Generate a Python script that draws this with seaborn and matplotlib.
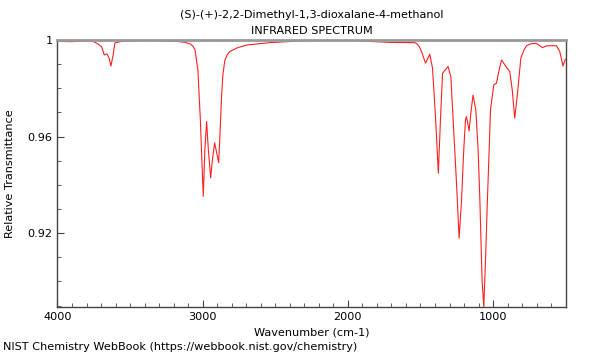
import matplotlib
matplotlib.use('Agg')

import pandas as pd
import matplotlib.pyplot as plt
import seaborn as sns
from matplotlib.ticker import MultipleLocator

# spectrum (wavenumber in cm-1, relative transmittance)
wavenumber = [4000, 3900, 3800, 3750, 3720, 3696, 3678, 3659, 3645, 3632, 3618, 3604,
              3560, 3500, 3400, 3300, 3157, 3120, 3088, 3068, 3053, 3033, 3016, 2996,
              2985, 2973, 2961, 2945, 2933, 2918, 2905, 2890, 2881, 2870, 2861, 2847,
              2830, 2813, 2764, 2698, 2537, 2331, 2124, 1986, 1849, 1711, 1573, 1540,
              1525, 1508, 1493, 1465, 1436, 1417, 1396, 1377, 1362, 1348, 1310, 1291,
              1275, 1252, 1234, 1217, 1202, 1190, 1183, 1165, 1153, 1138, 1119, 1103,
              1091, 1076, 1064, 1052, 1039, 1027, 1018, 995, 977, 961, 942, 908, 885,
              868, 851, 833, 809, 788, 770, 740, 701, 660, 632, 563, 541, 518, 502]
transmittance = [0.9994, 0.9993, 0.9996, 0.9993, 0.9983, 0.9972, 0.9938, 0.9942, 0.9926,
                 0.9892, 0.9934, 0.9988, 0.9994, 0.9996, 0.9998, 0.9997, 0.9993, 0.9990,
                 0.9984, 0.9975, 0.9959, 0.9876, 0.9669, 0.9352, 0.9545, 0.9662, 0.9545,
                 0.9429, 0.9503, 0.9574, 0.9537, 0.9492, 0.9607, 0.9765, 0.9855, 0.9917,
                 0.9940, 0.9952, 0.9967, 0.9979, 0.9989, 0.9996, 0.9998, 0.9998, 0.9994,
                 0.9990, 0.9989, 0.9989, 0.9985, 0.9972, 0.9952, 0.9904, 0.9941, 0.9883,
                 0.9676, 0.9448, 0.9676, 0.9862, 0.9890, 0.9848, 0.9669, 0.9408, 0.9179,
                 0.9338, 0.9545, 0.9669, 0.9683, 0.9623, 0.9698, 0.9772, 0.9710, 0.9545,
                 0.9338, 0.9007, 0.8895, 0.9090, 0.9338, 0.9545, 0.9710, 0.9814, 0.9821,
                 0.9868, 0.9917, 0.9887, 0.9869, 0.9793, 0.9676, 0.9772, 0.9924, 0.9958,
                 0.9976, 0.9984, 0.9986, 0.9968, 0.9976, 0.9976, 0.9952, 0.9892, 0.9921]

x_ticks = [4000, 3000, 2000, 1000]
y_ticks = [0.92, 0.96, 1.0]
y_tick_labels = ['0.92', '0.96', '1']

title = '(S)-(+)-2,2-Dimethyl-1,3-dioxalane-4-methanol\nINFRARED SPECTRUM'

df = pd.DataFrame({'wn': wavenumber, 't': transmittance})

sns.set_style('ticks')
plt.rcParams['font.family'] = ['DejaVu Sans']
plt.rcParams['text.color'] = 'black'
plt.rcParams['axes.labelcolor'] = 'black'
plt.rcParams['xtick.labelcolor'] = 'black'
plt.rcParams['ytick.labelcolor'] = 'black'

fig = plt.figure(figsize=(6, 3.6), dpi=100)
ax = fig.add_axes([0.0958, 0.148, 0.8470, 0.741])

sns.lineplot(data=df, x='wn', y='t', ax=ax, color='#ff2020', lw=0.8, estimator=None)

ax.set_xlim(4000, 500)
ax.set_ylim(min(transmittance), 1.0)
ax.set_xticks(x_ticks)
ax.set_xticklabels([str(v) for v in x_ticks])
ax.set_yticks(y_ticks)
ax.set_yticklabels(y_tick_labels)
ax.xaxis.set_minor_locator(MultipleLocator(100))
ax.yaxis.set_minor_locator(MultipleLocator(0.01))
ax.tick_params(which='both', direction='in', labelsize=8.1, color='#444444',
               labelcolor='black')
ax.tick_params(which='major', length=5, width=0.8)
ax.tick_params(which='minor', length=3, width=0.6)

for side in ['left', 'bottom', 'right']:
    ax.spines[side].set_visible(True)
    ax.spines[side].set_color('#444444')
    ax.spines[side].set_linewidth(1.0)
ax.spines['top'].set_visible(True)
ax.spines['top'].set_color('#999999')
ax.spines['top'].set_linewidth(2.0)

ax.set_xlabel('Wavenumber (cm-1)', fontsize=8.1, labelpad=4, color='black')
ax.set_ylabel('Relative Transmittance', fontsize=8.1, labelpad=9, color='black')
ax.set_title(title, fontsize=8.1, linespacing=1.85, pad=4, color='black')

fig.text(0.005, 0.022, 'NIST Chemistry WebBook (https://webbook.nist.gov/chemistry)',
         fontsize=8.1, ha='left', va='bottom', color='black')

fig.savefig('out.png', dpi=100)
